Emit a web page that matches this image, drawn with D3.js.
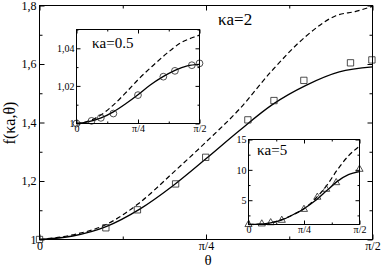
<!DOCTYPE html>
<html>
<head>
<meta charset="utf-8">
<script src="https://cdn.jsdelivr.net/npm/d3@7"></script>
<style>
  body { margin: 0; background: #fff; }
  svg { font-family: "Liberation Serif", "Times New Roman", serif; }
</style>
</head>
<body>
<svg id="chart" width="382" height="268"></svg>
<script>
var HALF_PI = Math.PI / 2;

// x tick labels (shared by all panels)
var xTickValues = [0, Math.PI / 4, HALF_PI];
var xTickLabels = ["0", "\u03c0/4", "\u03c0/2"];
var xMinorValues = [Math.PI / 8, 3 * Math.PI / 8];

// main panel, ka = 2
var mainTheta = [0, 0.157, 0.314, 0.471, 0.628, 0.785, 0.942, 1.100, 1.257, 1.414, 1.571];
var mainSolid = [1.000, 1.012, 1.044, 1.103, 1.183, 1.276, 1.372, 1.462, 1.527, 1.573, 1.590];
var mainDashTheta = [0, 0.157, 0.314, 0.471, 0.628, 0.785, 0.942, 1.100, 1.257, 1.398, 1.492, 1.571];
var mainDashed = [1.000, 1.016, 1.051, 1.125, 1.227, 1.333, 1.445, 1.580, 1.695, 1.765, 1.780, 1.797];
var mainSqTheta = [0, 0.313, 0.462, 0.642, 0.784, 0.983, 1.106, 1.247, 1.467, 1.568];
var mainSquares = [1.000, 1.040, 1.1015, 1.190, 1.281, 1.409, 1.475, 1.544, 1.604, 1.614];
var mainYTicks = [1, 1.2, 1.4, 1.6, 1.8];
var mainYMinor = [1.1, 1.3, 1.5, 1.7];

// inset, ka = 0.5
var in1Theta = [0, 0.157, 0.314, 0.471, 0.628, 0.785, 0.942, 1.100, 1.257, 1.414, 1.571];
var in1Solid = [1.000, 1.001, 1.003, 1.0062, 1.0105, 1.0153, 1.0205, 1.0248, 1.0283, 1.0307, 1.0315];
var in1DashTheta = [0, 0.170, 0.311, 0.470, 0.641, 0.790, 0.982, 1.153, 1.324, 1.494, 1.571];
var in1Dashed = [1.000, 1.0015, 1.0045, 1.0098, 1.0169, 1.0235, 1.031, 1.0373, 1.0427, 1.0459, 1.047];
var in1CircTheta = [0, 0.192, 0.311, 0.471, 0.785, 1.109, 1.257, 1.473, 1.571];
var in1Circles = [1.000, 1.0014, 1.003, 1.0053, 1.0151, 1.0249, 1.028, 1.031, 1.032];
var in1YTicks = [1, 1.02, 1.04];
var in1YMinor = [1.01, 1.03, 1.05];

// inset, ka = 5
var in2Theta = [0, 0.157, 0.314, 0.471, 0.628, 0.785, 0.942, 1.100, 1.257, 1.414, 1.571];
var in2Solid = [1.0, 1.05, 1.25, 1.75, 2.6, 3.6, 4.9, 6.5, 8.1, 9.2, 9.7];
var in2Dashed = [1.0, 1.05, 1.28, 1.8, 2.6, 3.6, 5.2, 7.3, 10.0, 12.3, 13.9];
var in2TriTheta = [0, 0.188, 0.314, 0.471, 0.785, 0.974, 1.100, 1.241, 1.571];
var in2Triangles = [1.0, 1.1, 1.3, 1.7, 3.5, 5.5, 6.8, 7.9, 10.1];
var in2YTicks = [5, 10, 15];
var in2YMinor = [2.5, 7.5, 12.5];

var commaLocale = d3.formatLocale({decimal: ",", thousands: ".", grouping: [3], currency: ["", ""]});
var fmt = commaLocale.format("~f");

var svg = d3.select("#chart");

function drawPanel(p) {
  var x = d3.scaleLinear().domain([0, HALF_PI]).range([p.left, p.right]);
  var y = d3.scaleLinear().domain(p.yDomain).range([p.bottom, p.top]);
  var g = svg.append("g");

  g.append("rect")
    .attr("x", p.left).attr("y", p.top)
    .attr("width", p.right - p.left).attr("height", p.bottom - p.top)
    .attr("fill", "#fff").attr("stroke", "none");

  function axis(gen, tx, ty, size, fmtFn, pad) {
    var a = g.append("g")
      .attr("transform", "translate(" + tx + "," + ty + ")")
      .style("font-family", "'Liberation Serif', serif")
      .style("font-size", p.tickFont + "px")
      .call(gen.tickSize(-size).tickPadding(pad).tickFormat(fmtFn));
    a.select(".domain").remove();
    a.selectAll("line").attr("stroke", "#000");
    a.selectAll("text").attr("fill", "#000");
    return a;
  }
  var blank = function () { return ""; };

  // bottom + top
  axis(d3.axisBottom(x).tickValues(xTickValues), 0, p.bottom, p.major, function (d, i) { return xTickLabels[i]; }, p.xPad);
  axis(d3.axisBottom(x).tickValues(xMinorValues), 0, p.bottom, p.minor, blank, 0);
  axis(d3.axisTop(x).tickValues(xTickValues), 0, p.top, p.major, blank, 0);
  axis(d3.axisTop(x).tickValues(xMinorValues), 0, p.top, p.minor, blank, 0);
  // left + right
  axis(d3.axisLeft(y).tickValues(p.yTicks), p.left, 0, p.major, fmt, p.yPad);
  axis(d3.axisLeft(y).tickValues(p.yMinor), p.left, 0, p.minor, blank, 0);
  axis(d3.axisRight(y).tickValues(p.yTicks), p.right, 0, p.major, blank, 0);
  axis(d3.axisRight(y).tickValues(p.yMinor), p.right, 0, p.minor, blank, 0);

  var line = d3.line()
    .x(function (d) { return x(d[0]); })
    .y(function (d) { return y(d[1]); })
    .curve(d3.curveMonotoneX);

  g.append("path")
    .attr("d", line(d3.zip(p.dashTheta, p.dashed)))
    .attr("fill", "none").attr("stroke", "#000")
    .attr("stroke-width", 1.2).attr("stroke-dasharray", "5,3");
  g.append("path")
    .attr("d", line(d3.zip(p.solidTheta, p.solid)))
    .attr("fill", "none").attr("stroke", "#000")
    .attr("stroke-width", 1.3);

  g.selectAll(".mk")
    .data(d3.zip(p.markTheta, p.marks))
    .enter().append("path")
    .attr("transform", function (d) { return "translate(" + x(d[0]) + "," + y(d[1]) + ")"; })
    .attr("d", d3.symbol().type(p.symbol).size(p.symbolSize))
    .attr("fill", "none").attr("stroke", "#222").attr("stroke-width", 0.8);

  g.append("rect")
    .attr("x", p.left).attr("y", p.top)
    .attr("width", p.right - p.left).attr("height", p.bottom - p.top)
    .attr("fill", "none").attr("stroke", "#000").attr("stroke-width", 1);

  g.append("text")
    .attr("x", p.labelX).attr("y", p.labelY)
    .style("font-size", p.labelFont + "px")
    .text(p.label);
  return g;
}

drawPanel({
  left: 39.5, right: 372.5, top: 5.5, bottom: 239.5,
  yDomain: [1, 1.8], yTicks: mainYTicks, yMinor: mainYMinor,
  major: 5, minor: 3, tickFont: 12, xPad: 2, yPad: 3,
  solidTheta: mainTheta, solid: mainSolid,
  dashTheta: mainDashTheta, dashed: mainDashed,
  markTheta: mainSqTheta, marks: mainSquares,
  symbol: d3.symbolSquare, symbolSize: 40,
  label: "\u03baa=2", labelX: 218, labelY: 25, labelFont: 17
});

drawPanel({
  left: 76.5, right: 199.5, top: 29.5, bottom: 123.5,
  yDomain: [1, 1.05], yTicks: in1YTicks, yMinor: in1YMinor,
  major: 4, minor: 2, tickFont: 10, xPad: 1, yPad: 2,
  solidTheta: in1Theta, solid: in1Solid,
  dashTheta: in1DashTheta, dashed: in1Dashed,
  markTheta: in1CircTheta, marks: in1Circles,
  symbol: d3.symbolCircle, symbolSize: 36,
  label: "\u03baa=0.5", labelX: 92, labelY: 48, labelFont: 15
});

drawPanel({
  left: 248.5, right: 359.5, top: 139.5, bottom: 224.5,
  yDomain: [1, 15], yTicks: in2YTicks, yMinor: in2YMinor,
  major: 4, minor: 2, tickFont: 10, xPad: 1, yPad: 2,
  solidTheta: in2Theta, solid: in2Solid,
  dashTheta: in2Theta, dashed: in2Dashed,
  markTheta: in2TriTheta, marks: in2Triangles,
  symbol: d3.symbolTriangle, symbolSize: 22,
  label: "\u03baa=5", labelX: 257, labelY: 155, labelFont: 15
});

// axis titles
svg.append("text")
  .attr("x", 208).attr("y", 265)
  .attr("text-anchor", "middle")
  .style("font-size", "15px")
  .text("\u03b8");

svg.append("text")
  .attr("transform", "translate(15,123) rotate(-90)")
  .attr("text-anchor", "middle")
  .style("font-size", "16px")
  .text("f(\u03baa,\u03b8)");
</script>
</body>
</html>
